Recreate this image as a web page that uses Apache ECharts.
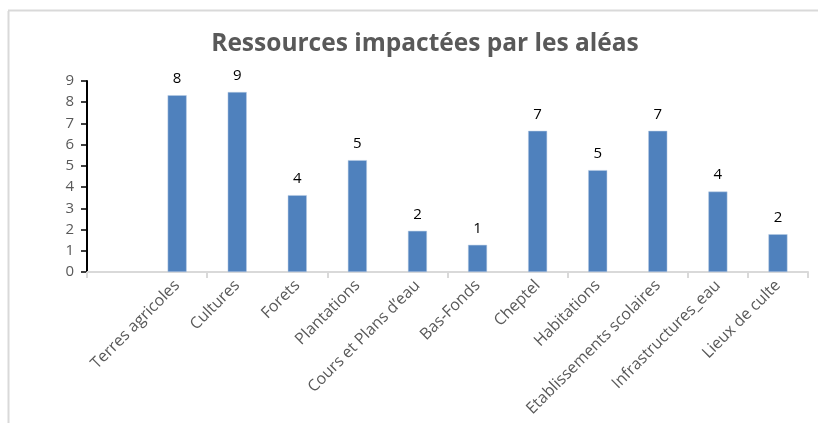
<!DOCTYPE html>
<html><head><meta charset="utf-8">
<script src="https://cdn.jsdelivr.net/npm/echarts@6/dist/echarts.min.js"></script>
<style>html,body{margin:0;padding:0;background:#fff}#c{width:818px;height:423px}</style>
</head><body><div id="c"></div>
<script>
const categories = ['', 'Terres agricoles', 'Cultures', 'Forets', 'Plantations', "Cours et Plans d\u2019eau", 'Bas-Fonds', 'Cheptel', 'Habitations', 'Etablissements scolaires', 'Infrastructures_eau', 'Lieux de culte'];
const barValues = [null, 8.33, 8.48, 3.62, 5.27, 1.94, 1.28, 6.65, 4.80, 6.65, 3.79, 1.78];
const labelTexts = ['', '8', '9', '4', '5', '2', '1', '7', '5', '7', '4', '2'];
const yTicks = [0, 1, 2, 3, 4, 5, 6, 7, 8, 9];

const chart = echarts.init(document.getElementById('c'), null, {renderer: 'canvas'});
chart.setOption({
  animation: false,
  backgroundColor: '#fff',
  title: {
    text: 'Ressources impactées par les aléas',
    left: 420, top: 27, textAlign: 'center',
    textStyle: {fontFamily: 'Open Sans', fontWeight: 'bold', fontSize: 24.5, color: '#595959'}
  },
  graphic: [
    {type: 'line', shape: {x1: 8.5, y1: 11, x2: 8.5, y2: 423}, style: {stroke: '#d9d9d9', lineWidth: 2}},
    {type: 'line', shape: {x1: 8, y1: 10.5, x2: 818, y2: 10.5}, style: {stroke: '#d9d9d9', lineWidth: 2}}
  ],
  grid: {left: 87, right: 10, top: 81, bottom: 151, containLabel: false},
  xAxis: {
    type: 'category', data: categories,
    axisLine: {lineStyle: {color: '#d9d9d9', width: 2}},
    axisTick: {show: true, interval: 1, length: 6, lineStyle: {color: '#d9d9d9', width: 2}},
    axisLabel: {interval: 0, rotate: 45, margin: 11, fontFamily: 'Open Sans', fontSize: 16, color: '#595959'}
  },
  yAxis: {
    type: 'value', min: 0, max: 9, interval: 1,
    axisLine: {show: true, lineStyle: {color: '#000', width: 2}},
    axisTick: {show: true, length: 6, lineStyle: {color: '#000', width: 1.5}},
    splitLine: {show: false},
    axisLabel: {margin: 13, fontFamily: 'Open Sans', fontSize: 15, color: '#595959',
      formatter: v => yTicks.includes(v) ? String(v) : ''}
  },
  series: [{
    type: 'bar', data: barValues, barWidth: 19,
    itemStyle: {color: '#4F81BD', borderColor: '#b8cce4', borderWidth: 0.5},
    label: {show: true, position: 'top', distance: 9, fontFamily: 'Open Sans', fontSize: 15, color: '#000',
      formatter: p => labelTexts[p.dataIndex]}
  }]
});
</script></body></html>
